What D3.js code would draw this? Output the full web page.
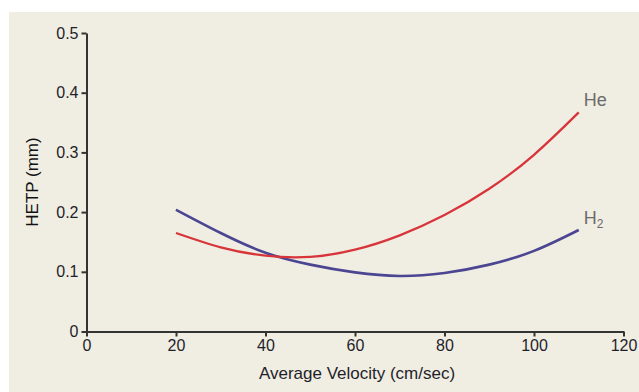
<!DOCTYPE html>
<html>
<head>
<script src="https://d3js.org/d3.v7.min.js"></script>
<style>
  body { margin: 0; background: #fff; }
  svg { display: block; font-family: "Liberation Sans", Arial, sans-serif; }
</style>
</head>
<body>
<div id="chart"></div>
<script>
// velocities (cm/sec)
const velocity = [20, 30, 40, 50, 60, 70, 80, 90, 100, 110];
// HETP (mm) for each carrier gas
const heValues = [0.165, 0.141, 0.127, 0.125, 0.137, 0.161, 0.195, 0.239, 0.296, 0.367];
const h2Values = [0.204, 0.165, 0.132, 0.112, 0.099, 0.093, 0.098, 0.112, 0.135, 0.170];
const xTicks = [0, 20, 40, 60, 80, 100, 120];
const yTicks = [0, 0.1, 0.2, 0.3, 0.4, 0.5];

const width = 639, height = 392;

const svg = d3.select("#chart").append("svg")
    .attr("width", width)
    .attr("height", height);

// beige panel
svg.append("rect")
    .attr("x", 9).attr("y", 12)
    .attr("width", width - 9).attr("height", height - 12)
    .attr("fill", "#f0ede3");

const x = d3.scaleLinear().domain([0, 120]).range([86.5, 623.5]);
const y = d3.scaleLinear().domain([0, 0.5]).range([331.5, 33]);

const xAxis = svg.append("g")
    .attr("transform", `translate(0,${y(0)})`)
    .call(d3.axisBottom(x).tickValues(xTicks).tickFormat(d3.format("d"))
        .tickSize(5).tickSizeOuter(0).tickPadding(3));

const yAxis = svg.append("g")
    .attr("transform", `translate(${x(0)},0)`)
    .call(d3.axisLeft(y).tickValues(yTicks).tickFormat(d => d === 0 ? "0" : d3.format(".1f")(d))
        .tickSize(5).tickSizeOuter(0).tickPadding(3));

[xAxis, yAxis].forEach(g => {
    g.attr("font-size", null);
    g.select(".domain").attr("stroke", "#333").attr("stroke-width", 2);
    g.selectAll(".tick line").attr("stroke", "#333").attr("stroke-width", 2);
    g.selectAll(".tick text").attr("fill", "#1f1f2a").style("font-size", "16px");
});

// curves
const line = d3.line()
    .x((d, i) => x(velocity[i]))
    .y(d => y(d))
    .curve(d3.curveNatural);

svg.append("path")
    .datum(h2Values)
    .attr("d", line)
    .attr("fill", "none")
    .attr("stroke", "#4b4592")
    .attr("stroke-width", 2.6);

svg.append("path")
    .datum(heValues)
    .attr("d", line)
    .attr("fill", "none")
    .attr("stroke", "#d8353a")
    .attr("stroke-width", 2.3);

// series labels
svg.append("text")
    .attr("x", x(110) + 5)
    .attr("y", y(heValues[heValues.length - 1]) - 6)
    .attr("fill", "#6b6b6b")
    .style("font-size", "18px")
    .text("He");

const h2Label = svg.append("text")
    .attr("x", x(110) + 5)
    .attr("y", y(h2Values[h2Values.length - 1]) - 6)
    .attr("fill", "#6b6b6b")
    .style("font-size", "18px");
h2Label.append("tspan").text("H");
h2Label.append("tspan").attr("dy", 4).style("font-size", "12px").text("2");

// axis titles
svg.append("text")
    .attr("x", 357)
    .attr("y", 379)
    .attr("text-anchor", "middle")
    .attr("fill", "#1f1f2a")
    .style("font-size", "17px")
    .text("Average Velocity (cm/sec)");

svg.append("text")
    .attr("transform", "rotate(-90)")
    .attr("x", -182)
    .attr("y", 38)
    .attr("text-anchor", "middle")
    .attr("fill", "#111")
    .style("font-size", "17px")
    .text("HETP (mm)");
</script>
</body>
</html>
